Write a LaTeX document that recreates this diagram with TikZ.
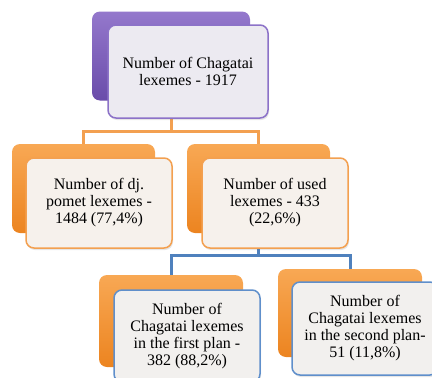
\documentclass[tikz,border=0pt]{standalone}
\usepackage{fontspec}
\setmainfont{Liberation Serif}
\usetikzlibrary{shadows}
\definecolor{purpA}{HTML}{9478CC}
\definecolor{purpB}{HTML}{6A4CAA}
\definecolor{purpE}{HTML}{8C72C8}
\definecolor{purpF}{HTML}{ECEAF1}
\definecolor{orA}{HTML}{F8A854}
\definecolor{orB}{HTML}{EC8420}
\definecolor{orE}{HTML}{F3A050}
\definecolor{orF}{HTML}{F6F1EC}
\definecolor{blE}{HTML}{5F8FCB}
\definecolor{blL}{HTML}{4F81BD}
\definecolor{blF}{HTML}{F2F0EE}
\begin{document}
\begin{tikzpicture}[x=1pt,y=-1pt,
  backbox/.style={rounded corners=8pt, minimum width=144pt, minimum height=89pt, inner sep=0pt, draw=none},
  backp/.style={backbox, top color=purpA, bottom color=purpB},
  backo/.style={backbox, top color=orA, bottom color=orB},
  frontbox/.style={rounded corners=8pt, minimum width=146pt, minimum height=90pt, inner sep=2pt,
     line width=1.5pt, align=center, font=\fontsize{16}{17}\selectfont,
     drop shadow={opacity=0.2, shadow xshift=1pt, shadow yshift=-2pt}},
  frontp/.style={frontbox, draw=purpE, fill=purpF},
  fronto/.style={frontbox, draw=orE, fill=orF},
  frontb/.style={frontbox, draw=blE, fill=blF},
  oline/.style={draw=orE, line width=3pt},
  bline/.style={draw=blL, line width=3pt}]
\useasboundingbox (0,0) rectangle (432,378);
\coordinate (j1) at (0,131);
\coordinate (j2) at (0,255);
% back boxes
\node[backp, minimum width=158pt] (b0) at (171,56) {};
\node[backo, minimum width=143pt] (b1) at (83.5,188.5) {};
\node[backo, minimum width=143pt] (b2) at (258.5,188.5) {};
\node[backo, minimum height=92pt] (b3) at (171,321) {};
\node[backo, minimum height=88pt] (b4) at (350,313) {};
% connectors
\draw[oline] (b0.center |- 0,110) -- (b0.center |- j1) -| (b1.north);
\draw[oline] (b0.center |- j1) -| (b2.north);
\draw[bline] (b2.center |- 0,240) -- (b2.center |- j2) -| (b3.north);
\draw[bline] (b2.center |- j2) -| (b4.north);
% front boxes
\node[frontp, minimum width=160pt, minimum height=93pt] (f0) at (188,71.5) {Number of Chagatai\\lexemes - 1917};
\node[fronto] (f1) at (99,203) {Number of dj.\\pomet lexemes -\\1484 (77,4\%)};
\node[fronto] (f2) at (275,203) {Number of used\\lexemes - 433\\(22,6\%)};
\node[frontb, minimum height=92pt] (f3) at (187,336) {Number of\\Chagatai lexemes\\in the first plan -\\382 (88,2\%)};
\node[frontb, minimum height=93pt] (f4) at (365,328.5) {Number of\\Chagatai lexemes\\in the second plan-\\51 (11,8\%)};
\end{tikzpicture}
\end{document}
